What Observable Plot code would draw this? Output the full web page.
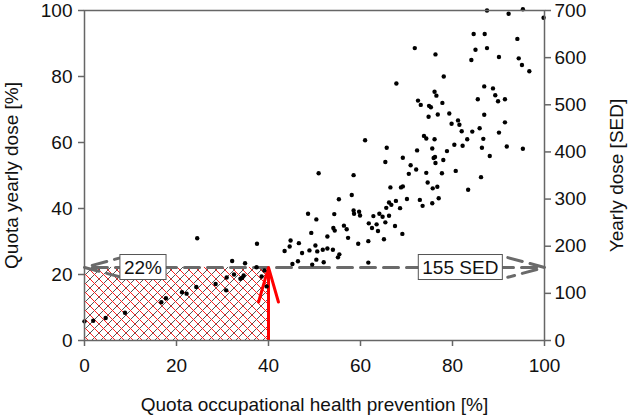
<!DOCTYPE html>
<html><head><meta charset="utf-8">
<script src="https://cdn.jsdelivr.net/npm/d3@7"></script>
<script src="https://cdn.jsdelivr.net/npm/@observablehq/plot@0.6"></script>
<style>
body{margin:0;background:#fff;}
</style>
</head><body><div id="chart"></div>
<script>
// Quota occupational health prevention [%]
const quotaPrevention = [
0.0,1.9,4.6,8.8,16.7,17.7,21.2,22.2,24.3,24.5,28.5,30.8,30.9,32.1,32.5,33.9,34.3,34.6,34.9,37.4,
37.5,38.5,39.1,39.6,43.5,44.6,44.8,45.2,46.4,46.6,47.3,48.6,48.9,49.3,49.5,50.2,50.4,50.4,50.6,50.9,
51.8,52.0,52.8,52.8,54.0,54.1,54.4,54.3,55.1,55.4,55.3,56.4,57.0,57.3,58.1,58.5,58.5,58.6,59.5,59.7,
59.9,61.7,61.8,61.7,61.0,62.5,62.8,63.5,63.8,64.1,64.8,65.1,65.4,65.6,65.7,65.4,66.2,66.2,66.5,66.7,
67.5,67.7,67.8,68.6,68.8,69.2,69.2,69.1,70.1,70.5,70.9,71.8,72.1,72.3,72.5,72.9,73.1,73.5,73.8,74.3,
74.3,74.6,74.8,74.9,75.3,75.6,75.6,75.7,75.9,76.1,76.1,76.2,76.3,76.3,76.5,76.7,76.8,77.0,77.7,77.8,
78.0,78.1,78.8,79.3,79.8,80.4,80.7,81.2,81.5,82.0,82.2,83.2,83.4,84.1,84.3,84.6,85.0,85.5,85.9,86.2,
86.4,86.7,86.9,86.9,87.0,87.5,87.5,88.1,88.8,89.3,89.9,90.1,90.1,91.4,91.4,91.8,92.2,94.1,94.4,95.1,
95.3,95.3,96.7,99.8
];
// Quota yearly dose [%]
const quotaDose = [
5.8,6.0,6.8,8.4,11.6,12.8,14.6,14.2,16.2,31.0,17.1,15.2,19.1,24.1,20.0,18.7,19.0,19.7,23.4,22.2,
29.3,19.4,21.2,16.4,27.1,28.5,30.3,23.2,24.0,29.5,26.5,38.4,27.3,32.6,23.0,28.8,24.5,36.7,27.0,50.7,
27.5,23.7,31.5,27.9,27.5,34.1,33.3,38.3,25.2,26.1,42.8,34.8,33.7,31.1,44.1,50.1,39.4,38.4,29.3,39.0,
37.9,30.1,35.5,23.6,60.7,34.1,37.7,35.2,33.2,38.4,37.5,30.7,35.8,40.2,58.4,54.1,37.8,41.8,46.4,41.1,
34.7,42.3,77.9,40.1,46.4,46.7,55.4,32.3,42.9,50.5,53.1,88.6,51.8,57.6,72.7,42.6,71.4,40.8,62.0,61.2,
50.8,47.9,67.8,71.1,70.7,58.2,41.6,46.1,55.3,75.4,61.0,55.6,53.8,86.7,74.2,46.6,68.5,43.1,50.7,72.0,
54.7,80.0,57.4,68.8,65.7,59.3,51.4,66.7,65.4,63.4,59.0,61.0,45.7,85.0,63.3,92.9,88.1,73.1,64.3,49.5,
58.4,61.1,77.0,68.4,92.9,88.6,100.0,55.9,76.4,74.3,72.5,85.9,63.0,73.1,66.1,58.8,99.0,91.4,85.5,83.5,
100.4,58.1,81.6,97.8
];
const xTicks = [0, 20, 40, 60, 80, 100];
const yTicks = [0, 20, 40, 60, 80, 100];
const sedTicks = [0, 100, 200, 300, 400, 500, 600, 700];
const sedMax = 700;
const thresholdSed = 155;
const thresholdPrevention = 40;
const labelTexts = ["22%", "155 SED"];
const labelPositions = [12.7, 81.7];

const thY = thresholdSed / sedMax * 100;
const points = quotaPrevention.map((x, i) => ({x, y: quotaDose[i]}));
const labels = labelTexts.map((t, i) => ({text: t, x: labelPositions[i], y: thY}));
const gray = "#6a6a6a";

const plot = Plot.plot({
  width: 630, height: 417,
  marginLeft: 84, marginRight: 86, marginTop: 10, marginBottom: 77,
  style: {fontFamily: "'Liberation Sans', Arial, sans-serif", fontSize: "19px", color: "#111", background: "#fff"},
  x: {domain: [0, 100]},
  y: {domain: [0, 100]},
  marks: [
    Plot.rect([{x1: 0, x2: thresholdPrevention, y1: 0, y2: thY}], {x1: "x1", x2: "x2", y1: "y1", y2: "y2", fill: "url(#hatch)"}),
    Plot.arrow([{x1: 50, x2: 0, y: thY}, {x1: 50, x2: 100, y: thY}], {x1: "x1", x2: "x2", y1: "y", y2: "y", stroke: gray, strokeWidth: 3, strokeDasharray: "15,8", headAngle: 30, headLength: 19}),
    Plot.arrow([{x: thresholdPrevention, y1: -12, y2: thY}], {x1: "x", x2: "x", y1: "y1", y2: "y2", stroke: "#ff0000", strokeWidth: 3, headAngle: 32, headLength: 18, clip: "frame"}),
    Plot.dot(points, {x: "x", y: "y", r: 2.2, fill: "#000", stroke: null}),
    Plot.frame({stroke: "#666", strokeWidth: 1.5}),
    Plot.text(labels, {x: "x", y: "y", text: "text", fontSize: 19, fill: "#111", className: "boxlabel"}),
    Plot.axisX(xTicks, {tickSize: 6, tickPadding: 12, stroke: "#666", strokeWidth: 1.5, label: "Quota occupational health prevention [%]", labelAnchor: "center", labelArrow: "none", labelOffset: 70}),
    Plot.axisY(yTicks, {anchor: "left", tickSize: 6, tickPadding: 6, stroke: "#666", strokeWidth: 1.5, label: "Quota yearly dose [%]", labelAnchor: "center", labelArrow: "none", labelOffset: 80}),
    Plot.axisY(sedTicks.map(d => d / sedMax * 100), {anchor: "right", tickSize: 6, tickPadding: 4, stroke: "#666", strokeWidth: 1.5, tickFormat: d => Math.round(d * sedMax / 100), label: "Yearly dose [SED]", labelAnchor: "center", labelArrow: "none", labelOffset: 78})
  ]
});
document.getElementById("chart").appendChild(plot);

const svg = d3.select(plot);
const defs = svg.insert("defs", ":first-child");
const pat = defs.append("pattern").attr("id", "hatch").attr("patternUnits", "userSpaceOnUse").attr("width", 9).attr("height", 9);
pat.append("rect").attr("width", 9).attr("height", 9).attr("fill", "#fff");
pat.append("path").attr("d", "M-2,2L2,-2M0,9L9,0M7,11L11,7").attr("stroke", "#555").attr("stroke-width", 1);
pat.append("path").attr("d", "M-2,7L2,11M0,0L9,9M7,-2L11,2").attr("stroke", "#ff2020").attr("stroke-width", 1);

svg.selectAll("g.boxlabel text").each(function() {
  const b = this.getBBox();
  const r = d3.select(this.parentNode).insert("rect", () => this)
    .attr("x", b.x - 4).attr("y", b.y - 2).attr("width", b.width + 8).attr("height", b.height + 4)
    .attr("fill", "#fff").attr("stroke", "#555").attr("stroke-width", 1);
  const t = this.getAttribute("transform");
  if (t) r.attr("transform", t);
});
</script>
</body></html>
